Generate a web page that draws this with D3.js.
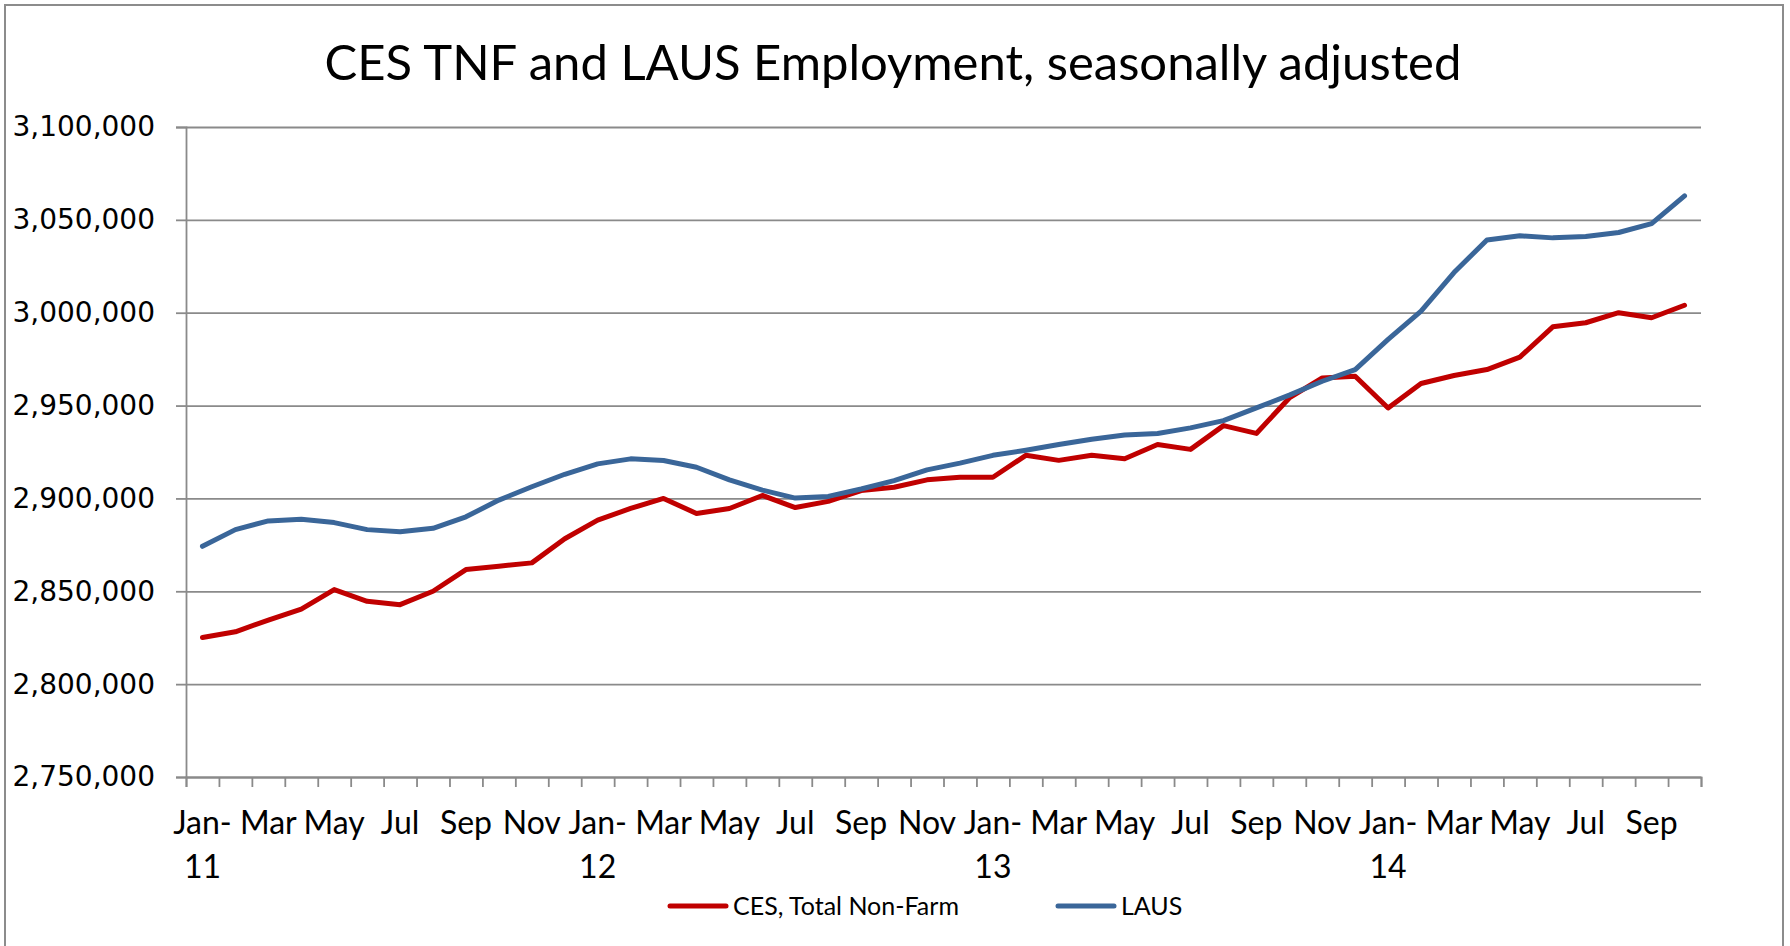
<!DOCTYPE html>
<html>
<head>
<meta charset="utf-8">
<script src="https://cdn.jsdelivr.net/npm/d3@7"></script>
<style>
  html, body { margin: 0; padding: 0; background: #ffffff; }
  svg { display: block; }
</style>
</head>
<body>
<svg id="chart" width="1790" height="946"></svg>
<script>
// ---------------- DATA ----------------
const categories = [
  "Jan-11","Feb-11","Mar-11","Apr-11","May-11","Jun-11","Jul-11","Aug-11","Sep-11","Oct-11","Nov-11","Dec-11",
  "Jan-12","Feb-12","Mar-12","Apr-12","May-12","Jun-12","Jul-12","Aug-12","Sep-12","Oct-12","Nov-12","Dec-12",
  "Jan-13","Feb-13","Mar-13","Apr-13","May-13","Jun-13","Jul-13","Aug-13","Sep-13","Oct-13","Nov-13","Dec-13",
  "Jan-14","Feb-14","Mar-14","Apr-14","May-14","Jun-14","Jul-14","Aug-14","Sep-14","Oct-14"
];

const cesValues = [
  2825100, 2828200, 2834500, 2840400, 2850900, 2844600, 2842800, 2850000, 2861700, 2863500, 2865300, 2878300,
  2888300, 2894600, 2900000, 2891900, 2894600, 2901600, 2895100, 2898400, 2904200, 2906000, 2910000, 2911400,
  2911400, 2923200, 2920500, 2923200, 2921400, 2929000, 2926400, 2939200, 2935000, 2954100, 2964900, 2965800,
  2948700, 2961900, 2966200, 2969400, 2976100, 2992400, 2994600, 3000000, 2997300, 3004000
];

const lausValues = [
  2874200, 2883200, 2887900, 2888800, 2887000, 2883200, 2882000, 2883900, 2890100, 2899100, 2906300, 2913000,
  2918600, 2921300, 2920400, 2916800, 2910000, 2904500, 2900200, 2901100, 2905100, 2909600, 2915400, 2919000,
  2923200, 2925900, 2929000, 2931900, 2934100, 2935000, 2938000, 2941900, 2948800, 2955600, 2963100, 2969400,
  2985600, 3000900, 3021600, 3039200, 3041400, 3040300, 3041000, 3043200, 3048000, 3062900
];

const seriesNames = ["CES, Total Non-Farm", "LAUS"];
const yTickValues = [2750000, 2800000, 2850000, 2900000, 2950000, 3000000, 3050000, 3100000];
const titleText = "CES TNF and LAUS Employment, seasonally adjusted";

// ---------------- LAYOUT / STYLE ----------------
const plot = { left: 186, right: 1701, top: 127, bottom: 777 };
const colors = { ces: "#C00000", laus: "#3A6699", grid: "#8A8A8A", border: "#8C8C8C" };
const labelFont = "Lato, 'Open Sans', sans-serif";
const numFont = "'DejaVu Sans', Verdana, sans-serif";
const seriesWidth = 5;

const svg = d3.select("#chart");

// outer chart border (bottom edge falls outside the picture)
svg.append("rect")
  .attr("x", 5).attr("y", 5)
  .attr("width", 1778).attr("height", 1000)
  .attr("fill", "#ffffff")
  .attr("stroke", colors.border)
  .attr("stroke-width", 2);

// scales
const x = d3.scaleBand().domain(categories).range([plot.left, plot.right]).padding(0);
const xEdge = d3.scaleLinear().domain([0, categories.length]).range([plot.left, plot.right]);
const y = d3.scaleLinear().domain([2750000, 3100000]).range([plot.bottom, plot.top]);
const cx = c => x(c) + x.bandwidth() / 2;

// horizontal gridlines
svg.append("g")
  .attr("transform", `translate(${plot.left},0)`)
  .call(d3.axisLeft(y).tickValues(yTickValues).tickSize(-(plot.right - plot.left)).tickFormat(""))
  .call(g => g.select(".domain").remove())
  .call(g => g.selectAll("line").attr("stroke", colors.grid).attr("stroke-width", 1.8));

// y axis with ticks and labels
svg.append("g")
  .attr("transform", `translate(${plot.left},0)`)
  .call(d3.axisLeft(y).tickValues(yTickValues).tickSize(10).tickPadding(21).tickFormat(d3.format(",")))
  .call(g => g.select(".domain").attr("stroke", colors.grid).attr("stroke-width", 1.8))
  .call(g => g.selectAll(".tick line").attr("stroke", colors.grid).attr("stroke-width", 1.8))
  .call(g => g.selectAll(".tick text")
      .attr("font-family", numFont)
      .attr("font-size", 28)
      .attr("fill", "#000"));

// x axis: tick marks at category boundaries
svg.append("g")
  .attr("transform", `translate(0,${plot.bottom})`)
  .call(d3.axisBottom(xEdge).tickValues(d3.range(categories.length + 1)).tickSize(10).tickFormat(""))
  .call(g => g.select(".domain").attr("stroke", colors.grid).attr("stroke-width", 1.8))
  .call(g => g.selectAll(".tick line").attr("stroke", colors.grid).attr("stroke-width", 1.8));

// x labels: every second category, Jan wraps to two lines
const labelCats = categories.filter((c, i) => i % 2 === 0);
const xl = svg.append("g")
  .attr("font-family", labelFont)
  .attr("font-size", 32)
  .attr("fill", "#000")
  .attr("text-anchor", "middle");
labelCats.forEach(c => {
  const [mon, yr] = c.split("-");
  const t = xl.append("text").attr("x", cx(c)).attr("y", 834);
  if (mon === "Jan") {
    t.append("tspan").attr("x", cx(c)).text(mon + "-");
    t.append("tspan").attr("x", cx(c)).attr("dy", 44).text(yr);
  } else {
    t.text(mon);
  }
});

// lines
const line = d3.line().x((d, i) => cx(categories[i])).y(d => y(d));
svg.append("path")
  .datum(cesValues)
  .attr("d", line)
  .attr("fill", "none")
  .attr("stroke", colors.ces)
  .attr("stroke-width", seriesWidth)
  .attr("stroke-linejoin", "round")
  .attr("stroke-linecap", "round");
svg.append("path")
  .datum(lausValues)
  .attr("d", line)
  .attr("fill", "none")
  .attr("stroke", colors.laus)
  .attr("stroke-width", seriesWidth)
  .attr("stroke-linejoin", "round")
  .attr("stroke-linecap", "round");

// title
svg.append("text")
  .attr("x", 893)
  .attr("y", 80)
  .attr("text-anchor", "middle")
  .attr("font-family", labelFont)
  .attr("font-size", 49)
  .attr("fill", "#000")
  .text(titleText);

// legend
const legendItems = [
  { name: seriesNames[0], color: colors.ces, x: 668 },
  { name: seriesNames[1], color: colors.laus, x: 1056 }
];
const lg = svg.append("g");
legendItems.forEach(d => {
  lg.append("line")
    .attr("x1", d.x + 2).attr("x2", d.x + 58)
    .attr("y1", 906).attr("y2", 906)
    .attr("stroke", d.color)
    .attr("stroke-width", seriesWidth)
    .attr("stroke-linecap", "round");
  lg.append("text")
    .attr("x", d.x + 65)
    .attr("y", 915)
    .attr("font-family", labelFont)
    .attr("font-size", 25)
    .attr("fill", "#000")
    .text(d.name);
});
</script>
</body>
</html>
